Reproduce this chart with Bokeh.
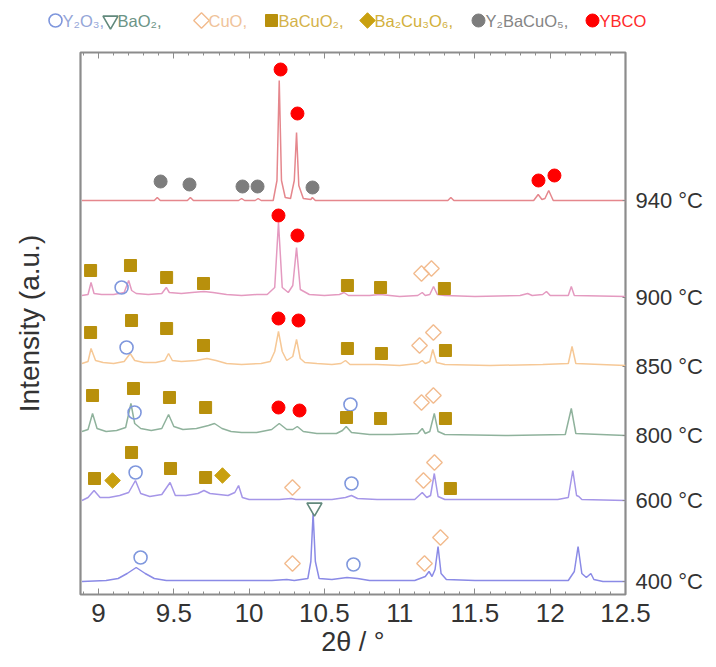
import numpy as np
from bokeh.plotting import figure
from bokeh.layouts import column
from bokeh.models import Range1d, LinearAxis, FixedTicker
from bokeh.core.properties import value
from bokeh.embed import file_html
from bokeh.resources import INLINE

# ---------------- data ----------------
temps = ["940 °C", "900 °C", "850 °C", "800 °C", "600 °C", "400 °C"]
baselines = [394, 297, 228, 159, 94, 13]          # stacking offset of each pattern (a.u.)

tick_values = [9, 9.5, 10, 10.5, 11, 11.5, 12, 12.5]
tick_labels = ["9", "9.5", "10", "10.5", "11", "11.5", "12", "12.5"]

phase_names = ["Y₂O₃,", "BaO₂,", "CuO,", "BaCuO₂,", "Ba₂Cu₃O₆,", "Y₂BaCuO₅,", "YBCO"]

# pattern vertices: 2theta (deg) and intensity above own baseline (a.u.)
t940_x = [8.89, 9.37, 9.39, 9.41, 9.59, 9.61, 9.63, 9.93, 9.95, 9.97, 10.04, 10.06, 10.08,
          10.16, 10.185, 10.20, 10.215, 10.24, 10.275, 10.30, 10.315, 10.33, 10.36, 10.41,
          10.42, 10.44, 11.32, 11.34, 11.36, 11.89, 11.92, 11.945, 11.965, 11.99, 12.02, 12.5]
t940_y = [0, 0, 3, 0, 0, 3, 0, 0, 2, 0, 0, 2, 0,
          0, 20, 120, 20, 3, 2, 20, 68, 15, 2, 1,
          3, 0, 0, 3, 0, 0, 6, 1, 2, 10, 0, 0]

t900_x = [8.89, 8.93, 8.95, 8.97, 9.02, 9.10, 9.17, 9.20, 9.22, 9.25, 9.33, 9.42, 9.45, 9.47,
          9.55, 9.62, 9.70, 9.76, 9.85, 9.95, 10.05, 10.12, 10.17, 10.195, 10.22, 10.26, 10.29,
          10.315, 10.34, 10.40, 10.50, 10.60, 10.63, 10.66, 10.80, 10.87, 11.0, 11.12, 11.15,
          11.17, 11.20, 11.225, 11.25, 11.30, 11.5, 11.80, 11.85, 11.88, 11.95, 11.975, 12.0,
          12.12, 12.14, 12.16, 12.5]
t900_y = [2, 3, 15, 4, 3, 3, 5, 17, 7, 4, 3, 4, 10, 5,
          4, 5, 6, 5, 3, 2, 3, 3, 10, 75, 10, 5, 12,
          50, 8, 3, 2, 3, 5, 2, 2, 3, 1, 2, 5,
          2, 3, 11, 3, 2, 1, 2, 4, 2, 3, 6, 2,
          2, 11, 2, 1]

t850_x = [8.89, 8.93, 8.95, 8.98, 9.03, 9.10, 9.17, 9.21, 9.24, 9.30, 9.38, 9.44, 9.465, 9.49,
          9.55, 9.65, 9.72, 9.78, 9.85, 9.95, 10.08, 10.14, 10.17, 10.195, 10.22, 10.25, 10.29,
          10.315, 10.34, 10.37, 10.45, 10.55, 10.61, 10.64, 10.67, 10.85, 11.0, 11.12, 11.15,
          11.17, 11.20, 11.22, 11.245, 11.30, 11.6, 11.95, 12.12, 12.145, 12.17, 12.5]
t850_y = [3, 5, 18, 6, 4, 3, 5, 13, 6, 4, 4, 6, 13, 6,
          5, 6, 8, 6, 3, 2, 3, 5, 15, 35, 15, 6, 10,
          27, 8, 4, 3, 2, 3, 6, 2, 2, 1, 3, 6,
          3, 5, 17, 4, 2, 1, 2, 3, 20, 3, 1]

t800_x = [8.89, 8.93, 8.96, 8.99, 9.05, 9.12, 9.18, 9.215, 9.24, 9.28, 9.35, 9.42, 9.465, 9.50,
          9.56, 9.65, 9.73, 9.77, 9.82, 9.88, 9.95, 10.05, 10.15, 10.20, 10.25, 10.29, 10.32,
          10.36, 10.45, 10.58, 10.62, 10.645, 10.68, 10.80, 10.95, 11.12, 11.15, 11.17, 11.20,
          11.23, 11.255, 11.30, 11.7, 12.10, 12.14, 12.17, 12.5]
t800_y = [4, 6, 22, 7, 4, 5, 8, 32, 12, 7, 5, 7, 21, 9,
          6, 7, 10, 12, 7, 4, 3, 3, 6, 12, 6, 6, 9,
          4, 2, 2, 5, 9, 3, 1, 1, 2, 7, 2, 4,
          22, 4, 1, 0, 1, 27, 2, 0]

t600_x = [8.89, 8.93, 8.97, 9.01, 9.07, 9.14, 9.20, 9.245, 9.28, 9.34, 9.42, 9.475, 9.51, 9.58,
          9.66, 9.70, 9.74, 9.80, 9.86, 9.905, 9.93, 9.955, 10.0, 10.2, 10.28, 10.31, 10.55,
          10.64, 10.68, 10.72, 10.85, 11.10, 11.15, 11.18, 11.205, 11.23, 11.255, 11.30, 12.05,
          12.12, 12.15, 12.175, 12.19, 12.21, 12.5]
t600_y = [0, 3, 10, 3, 3, 5, 8, 20, 7, 4, 6, 18, 5, 5,
          7, 10, 7, 6, 5, 8, 15, 3, 1, 1, 2, 1, 1,
          3, 5, 2, 1, 1, 8, 3, 5, 27, 4, 1, 1,
          3, 30, 5, 4, 1, 0]

t400_x = [8.89, 9.05, 9.13, 9.19, 9.25, 9.31, 9.37, 9.45, 10.15, 10.25, 10.30, 10.39, 10.41,
          10.425, 10.44, 10.465, 10.55, 10.65, 10.72, 10.80, 11.10, 11.17, 11.195, 11.215, 11.235,
          11.255, 11.275, 11.31, 11.5, 12.12, 12.16, 12.185, 12.21, 12.24, 12.27, 12.29, 12.35, 12.5]
t400_y = [0, 1, 3, 8, 14, 8, 3, 1, 1, 2, 1, 3, 20,
          68, 20, 3, 2, 4, 3, 1, 1, 5, 10, 5, 12,
          35, 8, 2, 1, 1, 10, 35, 8, 4, 8, 2, 0, 0]

# phase markers (2theta, absolute plotted height in a.u.)
y2o3_x = [9.153, 9.186, 9.239, 10.673, 9.246, 10.680, 9.279, 10.693]
y2o3_y = [307, 247, 182, 190, 122, 111, 37, 30]
bao2_x = [10.434]
bao2_y = [87]
cuo_x = [11.145, 11.211, 11.132, 11.224, 11.145, 11.224, 10.288, 11.158, 11.231, 10.288, 11.165, 11.271]
cuo_y = [321, 326, 249, 262, 192, 199, 107, 114, 132, 31, 31, 57]
bacuo2_x = [8.947, 9.212, 9.452, 9.697, 10.653, 10.873, 11.297,
            8.947, 9.219, 9.452, 9.697, 10.653, 10.879, 11.304,
            8.960, 9.232, 9.471, 9.711, 10.647, 10.873, 11.304,
            8.973, 9.219, 9.478, 9.711, 11.337]
bacuo2_y = [324, 329, 317, 311, 309, 307, 306,
            262, 274, 266, 249, 246, 241, 244,
            199, 206, 197, 187, 177, 176, 176,
            116, 142, 126, 117, 106]
ba2cu3o6_x = [9.093, 9.823]
ba2cu3o6_y = [114, 119]
y2bacuo5_x = [9.412, 9.604, 9.956, 10.056, 10.421]
y2bacuo5_y = [413, 410, 408, 408, 407]
ybco_x = [10.209, 10.321, 11.922, 12.028, 10.195, 10.321, 10.195, 10.328, 10.195, 10.335]
ybco_y = [525, 481, 414, 419, 379, 359, 276, 274, 187, 184]

# ---------------- styles ----------------
trace_colors = ["#e5878d", "#e49ac0", "#f6c896", "#8fb29c", "#a596e8", "#8a8ae6"]
FONT = "Liberation Sans"
FRAME = "#8c8c8c"
DIAMOND = np.pi / 4

phase_styles = [
    dict(marker="circle", size=13, angle=0, fill_color=None, line_color="#7f97dd", line_width=1.6),
    dict(marker="inverted_triangle", size=15, angle=0, fill_color=None, line_color="#62897c", line_width=1.6),
    dict(marker="square", size=11, angle=DIAMOND, fill_color=None, line_color="#f2bb8e", line_width=1.4),
    dict(marker="square", size=12, angle=0, fill_color="#b8900c", line_color="#b8900c", line_width=1),
    dict(marker="square", size=11, angle=DIAMOND, fill_color="#c9a00f", line_color="#c9a00f", line_width=1),
    dict(marker="circle", size=13, angle=0, fill_color="#7d7d7d", line_color="#7d7d7d", line_width=1),
    dict(marker="circle", size=13, angle=0, fill_color="#ff0000", line_color="#ff0000", line_width=1),
]
legend_text_colors = ["#95a6d8", "#6b9486", "#efc39a", "#d4b24a", "#d2b03c", "#858585", "#ff2a2a"]
legend_marker_px = [55, 110, 201, 271, 367, 478, 592]   # layout: marker centres of the legend row

# ---------------- main plot ----------------
p = figure(width=716, height=627, x_range=Range1d(8.88, 12.5), y_range=Range1d(0, 542),
           output_backend="svg", toolbar_location=None,
           min_border_left=80, min_border_right=91, min_border_top=12, min_border_bottom=73)
p.frame_align = False
p.grid.visible = False
p.outline_line_color = FRAME
p.outline_line_width = 2.2
p.background_fill_color = "white"
p.border_fill_color = "white"

traces = [(t940_x, t940_y), (t900_x, t900_y), (t850_x, t850_y),
          (t800_x, t800_y), (t600_x, t600_y), (t400_x, t400_y)]
for (tx, ty), base, col in zip(traces, baselines, trace_colors):
    p.line(tx, [v + base for v in ty], line_color=col, line_width=1.5)

phase_points = [(y2o3_x, y2o3_y), (bao2_x, bao2_y), (cuo_x, cuo_y), (bacuo2_x, bacuo2_y),
                (ba2cu3o6_x, ba2cu3o6_y), (y2bacuo5_x, y2bacuo5_y), (ybco_x, ybco_y)]
for (mx, my), st in zip(phase_points, phase_styles):
    p.scatter(mx, my, **st)

# bottom axis
minor = [round(v, 2) for v in np.arange(8.9, 12.501, 0.1)]
xb = p.xaxis[0]
xb.ticker = FixedTicker(ticks=tick_values, minor_ticks=minor)
xb.major_label_overrides = dict(zip(tick_values, tick_labels))
xb.axis_line_color = None
xb.major_tick_in = 6
xb.major_tick_out = 0
xb.minor_tick_in = 3
xb.minor_tick_out = 0
xb.major_tick_line_color = FRAME
xb.minor_tick_line_color = FRAME
xb.major_label_text_font = FONT
xb.major_label_text_font_size = "26px"
xb.major_label_text_color = "#333333"
xb.major_label_standoff = 9
xb.axis_label = "2θ / °"
xb.axis_label_text_font = FONT
xb.axis_label_text_font_style = "normal"
xb.axis_label_text_font_size = "27px"
xb.axis_label_text_color = "#333333"
xb.axis_label_standoff = 2

# top axis (ticks only)
xt = LinearAxis(ticker=FixedTicker(ticks=tick_values, minor_ticks=minor))
xt.axis_line_color = None
xt.major_tick_in = 6
xt.major_tick_out = 0
xt.minor_tick_in = 3
xt.minor_tick_out = 0
xt.major_tick_line_color = FRAME
xt.minor_tick_line_color = FRAME
xt.major_label_text_color = None
xt.major_label_text_font_size = "10px"
p.add_layout(xt, "above")

# left axis: title only
yl = p.yaxis[0]
yl.ticker = FixedTicker(ticks=[])
yl.axis_line_color = None
yl.major_tick_line_color = None
yl.minor_tick_line_color = None
yl.axis_label = "Intensity (a.u.)"
yl.axis_label_text_font = FONT
yl.axis_label_text_font_style = "normal"
yl.axis_label_text_font_size = "28px"
yl.axis_label_text_color = "#333333"
yl.axis_label_standoff = 36

# right axis: temperature labels at each baseline
yr = LinearAxis(ticker=FixedTicker(ticks=baselines),
                major_label_overrides=dict(zip(baselines, temps)))
yr.axis_line_color = None
yr.major_tick_in = 3
yr.major_tick_out = 0
yr.major_tick_line_color = FRAME
yr.minor_tick_line_color = None
yr.major_label_text_font = FONT
yr.major_label_text_font_size = "22px"
yr.major_label_text_color = "#333333"
yr.major_label_standoff = 10
p.add_layout(yr, "right")

# ---------------- legend row (separate strip above the plot) ----------------
lg = figure(width=716, height=40, x_range=Range1d(0, 716), y_range=Range1d(0, 40),
            output_backend="svg", toolbar_location=None, min_border=0)
lg.frame_align = False
lg.axis.visible = False
lg.grid.visible = False
lg.outline_line_color = None
lg.border_fill_color = "white"
for cx, st in zip(legend_marker_px, phase_styles):
    lg.scatter([cx], [20], **st)
lg.text([cx + 7 for cx in legend_marker_px], [20] * len(phase_names), text=phase_names,
        text_color=legend_text_colors, text_font=value(FONT), text_font_size="16.5px",
        text_baseline="middle", text_align="left")

layout = column(lg, p, spacing=0)
open("out.html", "w").write(file_html(layout, INLINE))
